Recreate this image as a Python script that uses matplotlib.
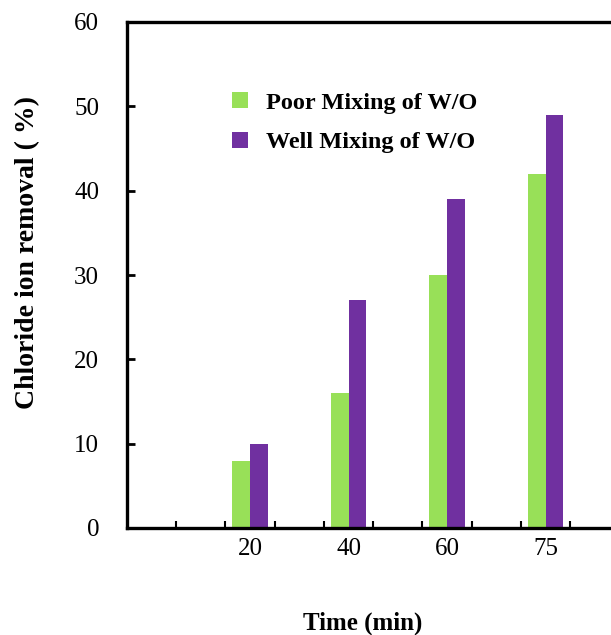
import matplotlib
matplotlib.use("Agg")
import matplotlib.pyplot as plt
from matplotlib.ticker import FixedLocator
import numpy as np

categories = ["20", "40", "60", "75"]
poor = [8, 16, 30, 42]
well = [10, 27, 39, 49]
series_names = ["Poor Mixing of W/O", "Well Mixing of W/O"]
colors = ["#98E058", "#7030A0"]

plt.rcParams['font.family'] = ['Liberation Serif', 'DejaVu Serif']

W, H = 611, 635
fig = plt.figure(figsize=(W/100, H/100), dpi=100)
# axes: left 127px, top 22px, bottom 528px, right beyond figure
left, right, top, bottom = 127, 652, 22, 528
ax = fig.add_axes([left/W, 1-bottom/H, (right-left)/W, (bottom-top)/H])

x = np.arange(1, len(categories)+1)
bw = 0.18
ax.bar(x - bw/2, poor, width=bw, color=colors[0], label=series_names[0])
ax.bar(x + bw/2, well, width=bw, color=colors[1], label=series_names[1])

ax.set_xlim(-0.25, -0.25 + (right-left)/98.5)
ax.set_ylim(0, 60)
ax.set_yticks(np.arange(0, 61, 10))
ax.set_xticks(x)
ax.set_xticklabels(categories)
ax.xaxis.set_minor_locator(FixedLocator(np.arange(0.25, 5.0, 0.5)))

for s in ['left', 'bottom', 'top']:
    ax.spines[s].set_linewidth(2.4)
ax.spines['right'].set_visible(False)

ax.tick_params(axis='x', which='major', length=0, pad=7, labelsize=18)
ax.tick_params(axis='x', which='minor', direction='in', length=5, width=1.5)
ax.tick_params(axis='y', direction='in', length=6, width=2, pad=20, labelsize=18)

fig.text(28/W, 1-252/H, "Chloride ion removal ( %)", rotation=90, ha='center', va='center',
         fontsize=20, fontweight='bold')
fig.text(363/W, 1-623/H, "Time (min)", ha='center', va='center', fontsize=18, fontweight='bold')

leg = ax.legend(loc='upper left', bbox_to_anchor=(227/W, 1-87/H), bbox_transform=fig.transFigure,
                frameon=False, handlelength=0.65, handleheight=0.65, handletextpad=0.75,
                labelspacing=0.75, borderaxespad=0, borderpad=0.2,
                prop={'weight': 'bold', 'size': 17.5})

fig.savefig("out.png", dpi=100)
